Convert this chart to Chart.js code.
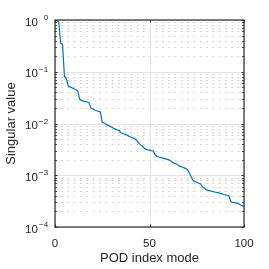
<!DOCTYPE html>
<html>
<head>
<meta charset="utf-8">
<script src="https://cdn.jsdelivr.net/npm/chart.js@4"></script>
<style>
  html, body { margin: 0; padding: 0; background: #fff; }
  #wrap { width: 269px; height: 269px; }
</style>
</head>
<body>
<div id="wrap"><canvas id="podChart" width="269" height="269"></canvas></div>
<script>
// POD 모드 번호
const modeIndex = [
  1, 2, 3, 4, 5, 6, 7, 8, 9, 10,
  11, 12, 13, 14, 15, 16, 17, 18, 19, 20,
  21, 22, 23, 24, 25, 26, 27, 28, 29, 30,
  31, 32, 33, 34, 35, 36, 37, 38, 39, 40,
  41, 42, 43, 44, 45, 46, 47, 48, 49, 50,
  51, 52, 53, 54, 55, 56, 57, 58, 59, 60,
  61, 62, 63, 64, 65, 66, 67, 68, 69, 70,
  71, 72, 73, 74, 75, 76, 77, 78, 79, 80,
  81, 82, 83, 84, 85, 86, 87, 88, 89, 90,
  91, 92, 93, 94, 95, 96, 97, 98, 99, 100
];

// 정규화된 특이값
const singularValues = [
  1.0, 0.9, 0.35, 0.34, 0.08, 0.075, 0.053, 0.051, 0.049, 0.047,
  0.045, 0.043, 0.030, 0.028, 0.027, 0.0265, 0.026, 0.025, 0.0198, 0.019,
  0.0182, 0.0176, 0.0172, 0.0168, 0.0105, 0.0102, 0.0097, 0.0092, 0.0089, 0.0085,
  0.0081, 0.0078, 0.0075, 0.0073, 0.0066, 0.0064, 0.0062, 0.0060, 0.0057, 0.0055,
  0.0053, 0.0051, 0.0048, 0.0043, 0.0039, 0.0037, 0.0034, 0.0032, 0.0031, 0.00305,
  0.0030, 0.00297, 0.0025, 0.0023, 0.00225, 0.0022, 0.00215, 0.0021, 0.00205, 0.0020,
  0.0019, 0.0018, 0.00173, 0.00167, 0.00158, 0.0015, 0.00146, 0.0014, 0.00136, 0.0013,
  0.00112, 0.00095, 0.00079, 0.00076, 0.00073, 0.00070, 0.00068, 0.00060, 0.00056, 0.00053,
  0.00051, 0.00050, 0.00049, 0.00048, 0.00047, 0.00046, 0.00045, 0.00044, 0.00043, 0.00042,
  0.00041, 0.00040, 0.00031, 0.00030, 0.000295, 0.00029, 0.000285, 0.00027, 0.00026, 0.000245
];

// 축 눈금
const xTicks = [0, 50, 100];
const yDecades = [-4, -3, -2, -1, 0];
const yTickLabels = ['-4', '-3', '-2', '-1', '0'];

const FONT = "'Liberation Sans', Arial, Helvetica, sans-serif";
const AXIS_COLOR = '#262626';

// MATLAB 스타일 격자, 상자, 안쪽 눈금, 10^n 라벨
const matlabAxes = {
  id: 'matlabAxes',
  beforeDatasetsDraw(chart) {
    const { ctx, chartArea: a, scales: { x, y } } = chart;
    ctx.save();
    ctx.lineWidth = 1;
    // 보조 격자 (점선)
    ctx.strokeStyle = '#c8c8c8';
    ctx.setLineDash([1.5, 4.8]);
    yDecades.forEach(k => {
      if (k >= 0) return;
      for (let m = 2; m <= 9; m++) {
        const py = Math.round(y.getPixelForValue(m * Math.pow(10, k))) + 0.5;
        ctx.beginPath();
        ctx.moveTo(a.left, py);
        ctx.lineTo(a.right, py);
        ctx.stroke();
      }
    });
    // 주 격자 (실선)
    ctx.setLineDash([]);
    ctx.strokeStyle = '#e3e3e3';
    yDecades.forEach(k => {
      const py = Math.round(y.getPixelForValue(Math.pow(10, k))) + 0.5;
      ctx.beginPath();
      ctx.moveTo(a.left, py);
      ctx.lineTo(a.right, py);
      ctx.stroke();
    });
    xTicks.forEach(v => {
      const px = Math.round(x.getPixelForValue(v)) + 0.5;
      ctx.beginPath();
      ctx.moveTo(px, a.top);
      ctx.lineTo(px, a.bottom);
      ctx.stroke();
    });
    ctx.restore();
  },
  afterDatasetsDraw(chart) {
    const { ctx, chartArea: a, scales: { x, y } } = chart;
    ctx.save();
    ctx.strokeStyle = AXIS_COLOR;
    ctx.lineWidth = 1;
    // 안쪽 눈금
    const tick = (x1, y1, x2, y2) => {
      ctx.beginPath();
      ctx.moveTo(x1, y1);
      ctx.lineTo(x2, y2);
      ctx.stroke();
    };
    xTicks.forEach(v => {
      const px = Math.round(x.getPixelForValue(v)) + 0.5;
      tick(px, a.bottom, px, a.bottom - 2.5);
      tick(px, a.top, px, a.top + 2.5);
    });
    yDecades.forEach(k => {
      for (let m = 1; m <= (k < 0 ? 9 : 1); m++) {
        const py = Math.round(y.getPixelForValue(m * Math.pow(10, k))) + 0.5;
        const len = m === 1 ? 2.5 : 1.8;
        tick(a.left, py, a.left + len, py);
        tick(a.right, py, a.right - len, py);
      }
    });
    // 상자
    ctx.lineWidth = 1.3;
    ctx.strokeStyle = '#3a3a3a';
    ctx.strokeRect(a.left, a.top, a.right - a.left, a.bottom - a.top);

    // y축 라벨 10^n
    ctx.fillStyle = AXIS_COLOR;
    ctx.textBaseline = 'middle';
    yDecades.forEach((k, i) => {
      const py = y.getPixelForValue(Math.pow(10, k));
      ctx.font = '11.5px ' + FONT;
      ctx.textAlign = 'left';
      ctx.fillText('10', 25, py + 2.5);
      ctx.font = '8px ' + FONT;
      ctx.textAlign = 'right';
      ctx.fillText(yTickLabels[i].replace('-', '\u2212'), 48.2, py - 2);
    });
    ctx.restore();
  }
};

const points = modeIndex.map((m, i) => ({ x: m, y: singularValues[i] }));

const ctx = document.getElementById('podChart').getContext('2d');
new Chart(ctx, {
  type: 'line',
  data: {
    datasets: [{
      data: points,
      borderColor: '#0072BD',
      borderWidth: 1.2,
      pointRadius: 0,
      tension: 0,
      fill: false
    }]
  },
  options: {
    responsive: false,
    animation: false,
    layout: { padding: { top: 20, right: 25, left: 0, bottom: 0 } },
    plugins: {
      legend: { display: false },
      tooltip: { enabled: false }
    },
    scales: {
      x: {
        type: 'linear',
        min: 0,
        max: 100,
        afterFit: s => { s.height = 42; },
        afterBuildTicks: s => { s.ticks = xTicks.map(v => ({ value: v })); },
        grid: { display: false, drawTicks: false },
        border: { display: false },
        ticks: {
          color: AXIS_COLOR,
          padding: 10,
          maxRotation: 0,
          font: { family: FONT, size: 11.5 }
        },
        title: {
          display: true,
          text: 'POD index mode',
          color: AXIS_COLOR,
          padding: { top: 0, bottom: 3 },
          font: { family: FONT, size: 13 }
        }
      },
      y: {
        type: 'logarithmic',
        min: 1e-4,
        max: 1,
        afterFit: s => { s.width = 55; },
        grid: { display: false },
        border: { display: false },
        ticks: { display: false },
        title: {
          display: true,
          text: 'Singular value',
          color: AXIS_COLOR,
          padding: { top: 4, bottom: 0 },
          font: { family: FONT, size: 13 }
        }
      }
    }
  },
  plugins: [matlabAxes]
});
</script>
</body>
</html>
